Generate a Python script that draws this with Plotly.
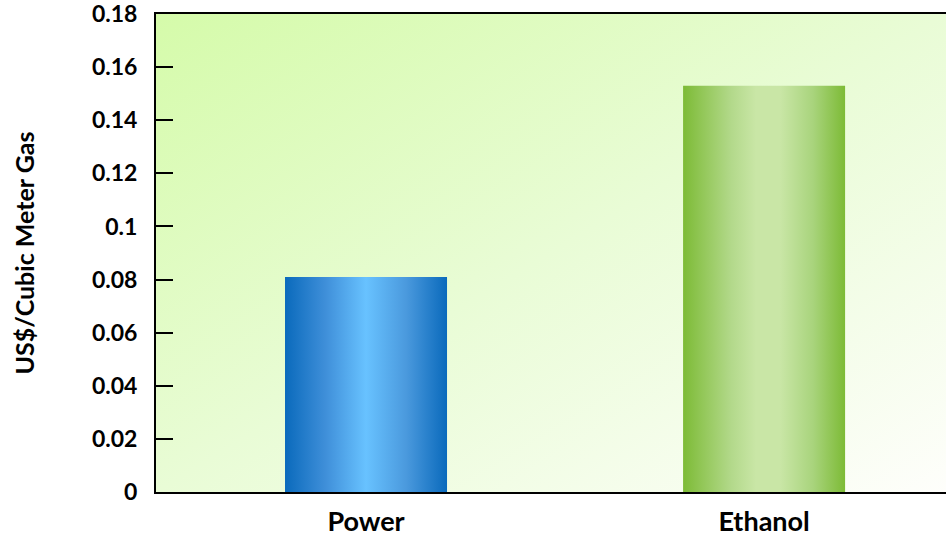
import base64
import plotly.graph_objects as go

# Cost per cubic meter of gas by use
categories = ["Power", "Ethanol"]
values = [0.081, 0.153]
tick_values = [0, 0.02, 0.04, 0.06, 0.08, 0.1, 0.12, 0.14, 0.16, 0.18]
tick_labels = ["0", "0.02", "0.04", "0.06", "0.08", "0.1", "0.12", "0.14", "0.16", "0.18"]

bar_width = 0.407
bar_scales = [
    [[0, "#0a6abc"], [0.25, "#3f8fd9"], [0.5, "#68c2ff"], [0.75, "#4a99dd"], [1, "#0a6abc"]],
    [[0, "#7dbb36"], [0.3, "#b3d98b"], [0.45, "#c9e6a6"], [0.6, "#c9e6a6"], [0.8, "#a9d47d"], [1, "#7dbb36"]],
]

FONT = "Lato"

# diagonal green-to-white backdrop for the plotting area
bg_svg = (
    '<svg xmlns="http://www.w3.org/2000/svg" width="100" height="100" preserveAspectRatio="none">'
    '<defs><linearGradient id="g" x1="0" y1="0" x2="1" y2="1">'
    '<stop offset="0" stop-color="#d5fbaa"/>'
    '<stop offset="0.5" stop-color="#e9fcd6"/>'
    '<stop offset="1" stop-color="#fefefb"/>'
    '</linearGradient></defs>'
    '<rect width="100" height="100" fill="url(#g)"/></svg>'
)
bg_uri = "data:image/svg+xml;base64," + base64.b64encode(bg_svg.encode()).decode()

fig = go.Figure()

for i, (cat, val) in enumerate(zip(categories, values)):
    x0, x1 = i - bar_width / 2, i + bar_width / 2
    fig.add_trace(go.Scatter(
        x=[x0, x1, x1, x0, x0],
        y=[0, 0, val, val, 0],
        mode="lines",
        line=dict(width=0),
        fill="toself",
        fillgradient=dict(type="horizontal", colorscale=bar_scales[i], start=x0, stop=x1),
        hoverinfo="text",
        text=f"{cat}: {val}",
        showlegend=False,
    ))

fig.update_layout(
    width=946,
    height=541,
    margin=dict(l=156, r=0, t=14, b=49),
    paper_bgcolor="white",
    plot_bgcolor="rgba(0,0,0,0)",
    showlegend=False,
    images=[dict(
        source=bg_uri, xref="paper", yref="paper", x=0, y=1,
        sizex=1, sizey=1, sizing="stretch", layer="below",
        xanchor="left", yanchor="top",
    )],
    xaxis=dict(
        range=[-0.5276, 1.457],
        tickmode="array",
        tickvals=list(range(len(categories))),
        ticktext=categories,
        showgrid=False,
        zeroline=False,
        showline=True,
        linecolor="black",
        linewidth=2,
        mirror=True,
        ticks="",
        tickfont=dict(family=FONT, size=27, color="black", weight="bold"),
        ticklabelstandoff=5,
        ticklabeloverflow="allow",
        automargin=False,
    ),
    yaxis=dict(
        range=[0, 0.18],
        tickmode="array",
        tickvals=tick_values,
        ticktext=tick_labels,
        showgrid=False,
        zeroline=False,
        showline=True,
        linecolor="black",
        linewidth=2,
        ticks="inside",
        ticklen=17,
        tickwidth=2,
        tickcolor="black",
        tickfont=dict(family=FONT, size=23, color="black", weight="bold"),
        ticklabelstandoff=12,
        ticklabeloverflow="allow",
        automargin=False,
        title=dict(
            text="US$/Cubic Meter Gas",
            font=dict(family=FONT, size=25, color="black", weight="bold"),
            standoff=50,
        ),
    ),
)

fig.write_html("out.html")
